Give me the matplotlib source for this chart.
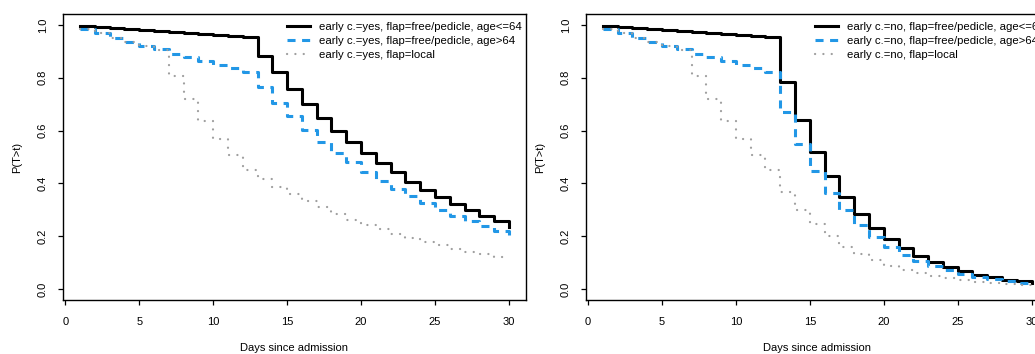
import matplotlib
matplotlib.use('Agg')
import matplotlib.pyplot as plt

# ---------------- data ----------------
days = list(range(1, 31))

# panel 1: early c.=yes
yes_young = [0.997, 0.993, 0.989, 0.986, 0.982, 0.978, 0.974, 0.970, 0.966, 0.963,
             0.959, 0.955, 0.884, 0.820, 0.759, 0.701, 0.649, 0.600, 0.555, 0.516,
             0.476, 0.442, 0.406, 0.376, 0.348, 0.323, 0.298, 0.275, 0.256, 0.235]
yes_old = [0.985, 0.968, 0.951, 0.936, 0.919, 0.908, 0.891, 0.879, 0.864, 0.848,
           0.837, 0.822, 0.764, 0.703, 0.654, 0.601, 0.555, 0.517, 0.480, 0.443,
           0.411, 0.380, 0.351, 0.326, 0.300, 0.278, 0.259, 0.237, 0.218, 0.206]
yes_local = [0.985, 0.968, 0.952, 0.937, 0.921, 0.905, 0.808, 0.718, 0.638, 0.570,
             0.507, 0.451, 0.415, 0.386, 0.359, 0.335, 0.310, 0.286, 0.263, 0.243,
             0.227, 0.208, 0.193, 0.178, 0.165, 0.152, 0.141, 0.131, 0.123, 0.116]

# panel 2: early c.=no
no_young = [0.997, 0.993, 0.989, 0.986, 0.982, 0.978, 0.974, 0.970, 0.966, 0.963,
            0.959, 0.955, 0.783, 0.639, 0.520, 0.427, 0.347, 0.283, 0.232, 0.189,
            0.154, 0.125, 0.102, 0.083, 0.067, 0.054, 0.044, 0.036, 0.030, 0.023]
no_old = [0.985, 0.968, 0.951, 0.936, 0.919, 0.908, 0.891, 0.879, 0.864, 0.848,
          0.837, 0.822, 0.671, 0.548, 0.447, 0.365, 0.298, 0.243, 0.198, 0.161,
          0.130, 0.108, 0.087, 0.071, 0.057, 0.047, 0.038, 0.030, 0.024, 0.021]
no_local = [0.985, 0.968, 0.952, 0.937, 0.921, 0.905, 0.808, 0.718, 0.638, 0.570,
            0.507, 0.449, 0.367, 0.300, 0.247, 0.199, 0.161, 0.133, 0.109, 0.088,
            0.073, 0.060, 0.049, 0.041, 0.034, 0.028, 0.023, 0.019, 0.016, 0.012]

labels_yes = ["early c.=yes, flap=free/pedicle, age<=64",
              "early c.=yes, flap=free/pedicle, age>64",
              "early c.=yes, flap=local"]
labels_no = ["early c.=no, flap=free/pedicle, age<=64",
             "early c.=no, flap=free/pedicle, age>64",
             "early c.=no, flap=local"]

xticks = [0, 5, 10, 15, 20, 25, 30]
xtick_labels = ["0", "5", "10", "15", "20", "25", "30"]
yticks = [0.0, 0.2, 0.4, 0.6, 0.8, 1.0]
ytick_labels = ["0.0", "0.2", "0.4", "0.6", "0.8", "1.0"]
xlabel = "Days since admission"
ylabel = "P(T>t)"

# ---------------- style ----------------
plt.rcParams['font.family'] = ['Liberation Sans', 'DejaVu Sans']
plt.rcParams['lines.scale_dashes'] = False

styles = [
    dict(color='black', lw=2.2, linestyle='-'),
    dict(color='#2297E6', lw=2.2, dashes=(5.8, 4.7)),
    dict(color='#9E9E9E', lw=1.6, dashes=(0.1, 5.9), dash_capstyle='round'),
]

W, H = 1035, 354
fig = plt.figure(figsize=(W / 100, H / 100), dpi=100)


def panel(left_px, series, labels, leg_x):
    ax = fig.add_axes([left_px / W, (H - 299.6) / H, 463 / W, 285.2 / H])
    for ys, lab, st in zip(series, labels, styles):
        ax.plot(days, ys, drawstyle='steps-post', label=lab, **st)
    ax.set_xlim(-0.16, 31.16)
    ax.set_ylim(-0.04, 1.04)
    ax.set_xticks(xticks)
    ax.set_xticklabels(xtick_labels)
    ax.set_yticks(yticks)
    ax.set_yticklabels(ytick_labels, rotation=90, va='center')
    ax.tick_params(direction='out', length=3.8, width=0.9, labelsize=8,
                   colors='black')
    ax.tick_params(axis='x', pad=8.5)
    ax.tick_params(axis='y', pad=7)
    for s in ax.spines.values():
        s.set_linewidth(1.0)
        s.set_color('black')
    ax.set_xlabel(xlabel, fontsize=8)
    ax.xaxis.set_label_coords(0.5, -0.152)
    ax.set_ylabel(ylabel, fontsize=8)
    ax.yaxis.set_label_coords(-0.088, 0.5)
    ax.legend(loc='upper left', bbox_to_anchor=(leg_x, 0.972), frameon=False,
              fontsize=8.2, handlelength=2.0, handletextpad=0.8,
              labelspacing=0.32, borderpad=0, borderaxespad=0)
    return ax


panel(63, [yes_young, yes_old, yes_local], labels_yes, 0.4838)
panel(585.7, [no_young, no_old, no_local], labels_no, 0.4953)

fig.savefig('out.png', dpi=100, facecolor='white')
